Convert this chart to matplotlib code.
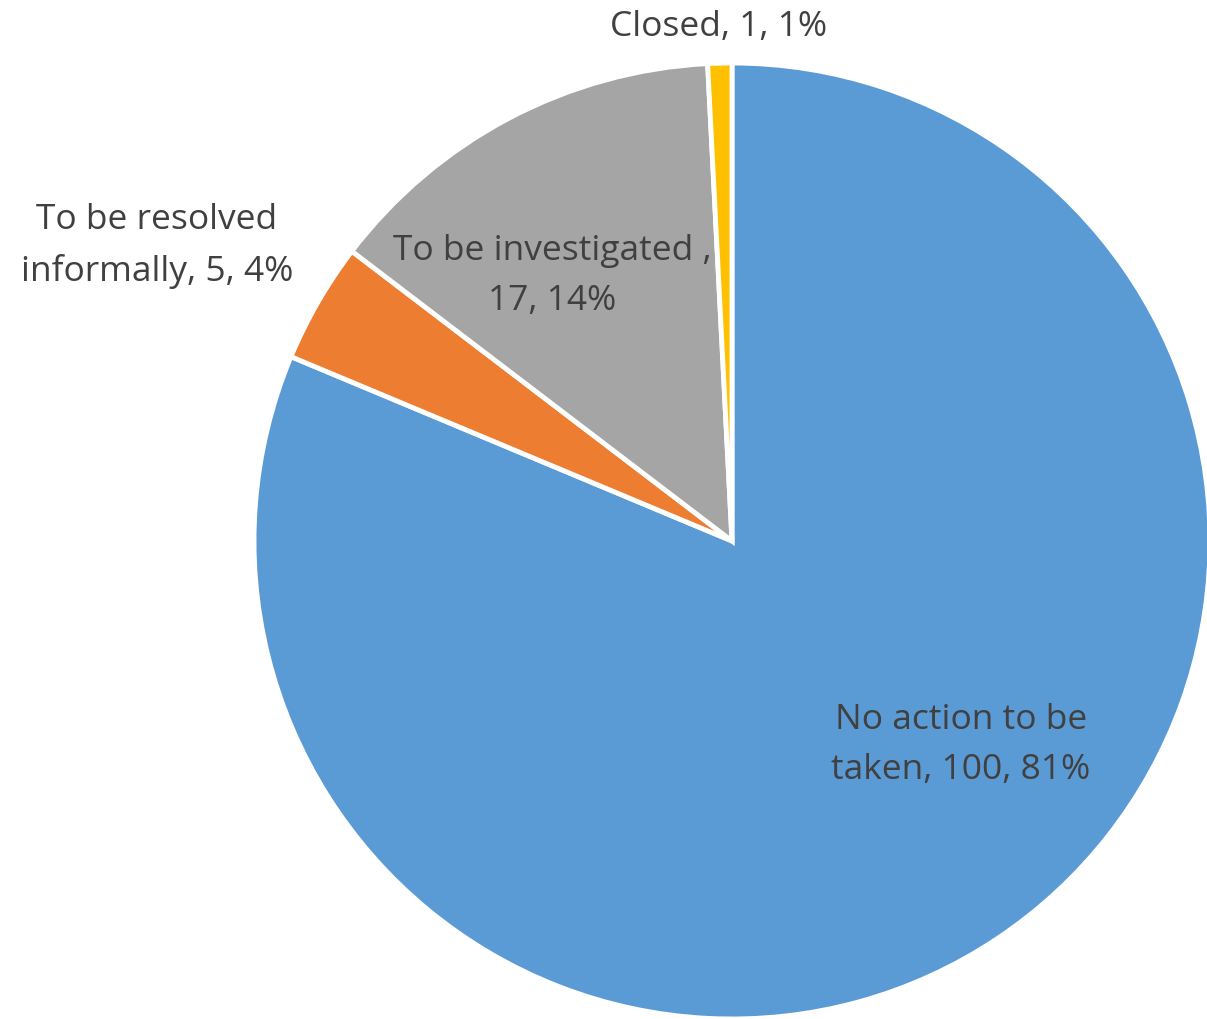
import matplotlib.pyplot as plt

# Case outcomes
categories = ["No action to be taken", "To be resolved informally", "To be investigated ", "Closed"]
counts = [100, 5, 17, 1]
colors = ["#5B9BD5", "#ED7D31", "#A5A5A5", "#FFC000"]

W, H = 1207, 1019
fig = plt.figure(figsize=(W / 100, H / 100), dpi=100)
ax = fig.add_axes([0, 0, 1, 1])

cx, cy, r = 732, 541, 478
ax.pie(counts, colors=colors, startangle=-90, counterclock=True,
       center=(cx, cy), radius=r, frame=True,
       wedgeprops=dict(edgecolor="white", linewidth=3.5))
ax.set_xlim(0, W)
ax.set_ylim(H, 0)
ax.set_aspect("equal")
ax.axis("off")

total = sum(counts)
pct = [round(c / total * 100) for c in counts]

# label text, split where the chart wraps it
labels = [
    f"No action to be\ntaken, {counts[0]}, {pct[0]}%",
    f"To be resolved\ninformally, {counts[1]}, {pct[1]}%",
    f"To be investigated ,\n{counts[2]}, {pct[2]}%",
    f"Closed, {counts[3]}, {pct[3]}%",
]
label_pos = [(961, 745), (157, 246), (552, 276), (719, 27)]

for text, (x, y) in zip(labels, label_pos):
    ax.text(x, y, text, ha="center", va="center", fontsize=25.5,
            color="#404040", family="Open Sans", linespacing=1.6)

fig.savefig("out.png", dpi=100)
